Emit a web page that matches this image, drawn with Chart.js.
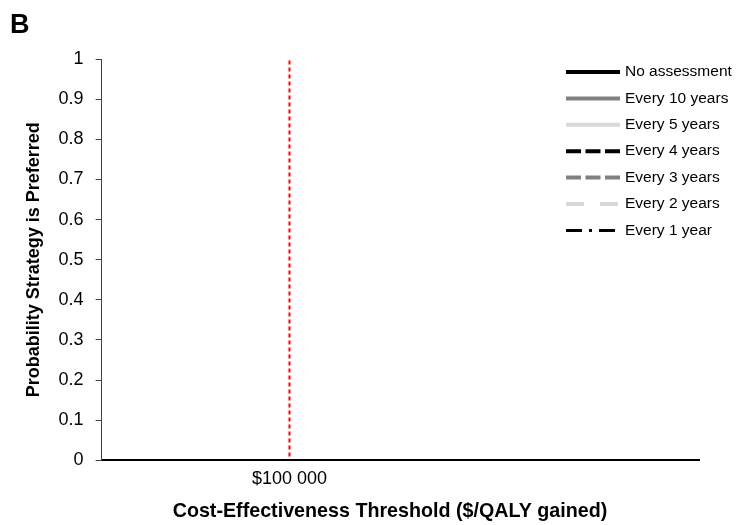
<!DOCTYPE html>
<html>
<head>
<meta charset="utf-8">
<script src="https://cdn.jsdelivr.net/npm/chart.js@4"></script>
<style>
    html, body { margin: 0; padding: 0; background: #fff; }
    #wrap { width: 737px; height: 525px; }
</style>
</head>
<body>
<div id="wrap"><canvas id="acceptCurve"></canvas></div>
<script>
/* global Chart, document */
// strategies shown in the legend; the panel itself has no curves drawn
const strategyLabels = ["No assessment", "Every 10 years", "Every 5 years", "Every 4 years", "Every 3 years", "Every 2 years", "Every 1 year"];
const noAssessment = [];
const every10Years = [];
const every5Years = [];
const every4Years = [];
const every3Years = [];
const every2Years = [];
const every1Year = [];

// willingness-to-pay reference line
const thresholdX = [100000, 100000];
const thresholdY = [0.01, 1];

const xTicks = [100000];
const yTicks = [0, 0.1, 0.2, 0.3, 0.4, 0.5, 0.6, 0.7, 0.8, 0.9, 1];

const FONT = "'Liberation Sans', Arial, sans-serif";

const styles = [
    { color: "#000000", dash: [], width: 4 },
    { color: "#808080", dash: [], width: 4 },
    { color: "#d9d9d9", dash: [], width: 4 },
    { color: "#000000", dash: [15, 4.5], width: 4 },
    { color: "#808080", dash: [15, 4.5], width: 4 },
    { color: "#d9d9d9", dash: [18, 16], width: 4 },
    { color: "#000000", dash: [16, 7, 3, 7], width: 3 }
];
const seriesValues = [noAssessment, every10Years, every5Years, every4Years, every3Years, every2Years, every1Year];

const datasets = strategyLabels.map((label, i) => ({
    label: label,
    data: seriesValues[i],
    borderColor: styles[i].color,
    borderDash: styles[i].dash,
    borderWidth: styles[i].width,
    pointRadius: 0,
    fill: false
}));
datasets.push({
    label: "threshold",
    data: thresholdX.map((x, i) => ({ x: x, y: thresholdY[i] })),
    borderColor: "#ff0000",
    borderDash: [4, 3],
    borderWidth: 2,
    pointRadius: 0,
    fill: false
});

// legend sits inside the plot at top right, drawn by hand, plus panel letter and x title
const lineLegend = {
    id: "lineLegend",
    afterDraw(chart) {
        const ctx = chart.ctx;
        ctx.save();
        ctx.font = "15.5px " + FONT;
        ctx.textBaseline = "middle";
        ctx.fillStyle = "#000";
        strategyLabels.forEach((label, i) => {
            const y = 72 + i * 26.4;
            ctx.beginPath();
            ctx.strokeStyle = styles[i].color;
            ctx.lineWidth = styles[i].width;
            ctx.setLineDash(styles[i].dash);
            ctx.moveTo(566, y);
            ctx.lineTo(620, y);
            ctx.stroke();
            ctx.fillText(label, 625, y);
        });
        ctx.setLineDash([]);
        ctx.font = "bold 19.7px " + FONT;
        ctx.textAlign = "center";
        ctx.fillText("Cost-Effectiveness Threshold ($/QALY gained)", 390, 512);
        ctx.font = "bold 27px " + FONT;
        ctx.textAlign = "left";
        ctx.textBaseline = "alphabetic";
        ctx.fillText("B", 10, 33);
        ctx.restore();
    }
};

new Chart(document.getElementById("acceptCurve"), {
    type: "line",
    data: { datasets: datasets },
    options: {
        responsive: true,
        maintainAspectRatio: false,
        animation: false,
        layout: { padding: { top: 59, right: 38, left: 23, bottom: 35 } },
        plugins: { legend: { display: false }, tooltip: { enabled: false } },
        scales: {
            x: {
                type: "linear",
                min: 0,
                max: 318000,
                afterBuildTicks: (scale) => { scale.ticks = xTicks.map(v => ({ value: v })); },
                ticks: {
                    color: "#000",
                    font: { family: FONT, size: 18 },
                    padding: 0,
                    maxRotation: 0,
                    callback: (v) => "$" + v.toLocaleString("en-US").replace(/,/g, " ")
                },
                grid: { display: false },
                border: { display: true, color: "#000", width: 2 }
            },
            y: {
                min: 0,
                max: 1,
                afterBuildTicks: (scale) => { scale.ticks = yTicks.map(v => ({ value: v })); },
                ticks: {
                    color: "#000",
                    font: { family: FONT, size: 18 },
                    padding: 12,
                    callback: (v) => String(v)
                },
                grid: { drawOnChartArea: false, tickLength: 6, color: "#404040" },
                border: { display: true, color: "#404040", width: 1 },
                title: {
                    display: true,
                    text: "Probability Strategy is Preferred",
                    color: "#000",
                    font: { family: FONT, size: 18, weight: "bold" },
                    padding: { top: 0, bottom: 2 }
                }
            }
        }
    },
    plugins: [lineLegend]
});
</script>
</body>
</html>
